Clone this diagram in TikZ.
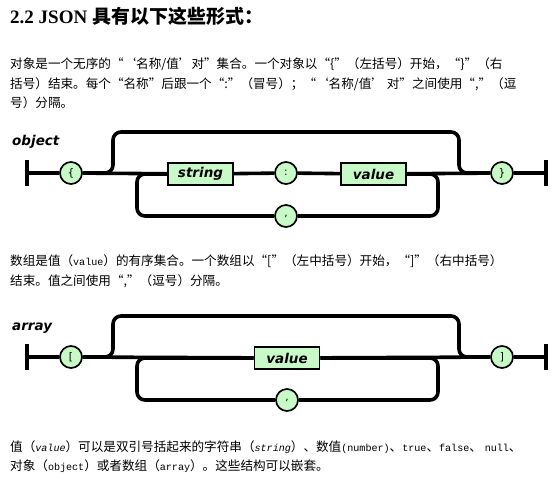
\documentclass[tikz,border=0pt]{standalone}
\usepackage{fontspec}
\setmainfont{Liberation Serif}
\newfontfamily\cjk{Noto Sans CJK SC}
\newfontfamily\railfont{DejaVu Sans}
\newfontfamily\latmono{Liberation Mono}[Scale=0.8]
\definecolor{railgreen}{HTML}{C8FAC8}

\begin{document}
\begin{tikzpicture}[x=1pt,y=-1pt,
    rail/.style={line width=3.6pt,rounded corners=8pt},
    term/.style={circle,draw=black,fill=railgreen,line width=1.7pt,minimum size=22pt,inner sep=0pt,font=\railfont\fontsize{10.5}{10.5}\selectfont},
    nonterm/.style={rectangle,draw=black,fill=railgreen,line width=1.7pt,minimum width=65pt,minimum height=22pt,inner sep=0pt,font=\railfont\bfseries\itshape\fontsize{13.5}{13.5}\selectfont},
    bar/.style={rectangle,fill=black,minimum width=3.6pt,minimum height=26pt,inner sep=0pt},
    diaglabel/.style={anchor=base west,inner sep=0pt,font=\railfont\bfseries\itshape\fontsize{13.5}{13.5}\selectfont},
    para/.style={anchor=base west,align=left,inner sep=0pt,font=\cjk\fontsize{12.6}{19.5}\selectfont}]

    % Page
    \path[fill=white,use as bounding box] (0,0) rectangle (556,491);

    % Title and text (base = last line)
    \node[anchor=base west,inner sep=0pt,font=\fontsize{19}{19}\selectfont\bfseries] (title) at (10,23) {2.2 JSON {\cjk 具有以下这些形式：}};
    \node[para] (p1) at (10,107.5) {对象是一个无序的“‘名称/值’对”集合。一个对象以“\{”（左括号）开始，“\}”（右\\括号）结束。每个“名称”后跟一个“:”（冒号）；“‘名称/值’ 对”之间使用“,”（逗\\号）分隔。};
    \node[para] (p2) at (10,285) {数组是值（{\latmono value}）的有序集合。一个数组以“[”（左中括号）开始，“]”（右中括号）\\结束。值之间使用“,”（逗号）分隔。};
    \node[para] (p3) at (10,470.5) {值（{\latmono\itshape value}）可以是双引号括起来的字符串（{\latmono\itshape string}）、数值{\latmono (number)}、{\latmono true}、{\latmono false}、 {\latmono null}、\\对象（{\latmono object}）或者数组（{\latmono array}）。这些结构可以嵌套。};

    % Object
    \node[diaglabel] (olab) at (12,145) {object};
    \node[bar] (oL) at (27,173) {};
    \node[term] (olb) at (71,173) {\{};
    \node[nonterm] (ostr) at (200.5,174) {string};
    \node[term] (ocol) at (286,173) {:};
    \node[nonterm] (oval) at (373.5,174) {value};
    \node[term] (orb) at (502,173) {\}};
    \node[bar] (oR) at (546,173) {};
    \node[term] (ocom) at (286,216) {,};
    \coordinate (oup1) at (113,132);
    \coordinate (oup2) at (459,132);
    \coordinate (odn1) at (137,216);
    \coordinate (odn2) at (438,216);

    \draw[rail] (oL) -- (olb) -- (ostr) -- (ocol) -- (oval) -- (orb) -- (oR);
    \draw[rail] (olb.east) -| (oup1) -- (oup2) |- (orb.west);
    \draw[rail] (ocom) -- (odn1) |- (ostr.west);
    \draw[rail] (ocom) -- (odn2) |- (oval.east);

    % Array
    \node[diaglabel] (alab) at (12,330) {array};
    \node[bar] (aL) at (27,357) {};
    \node[term] (alb) at (71,357) {[};
    \node[nonterm] (aval) at (287,358) {value};
    \node[term] (arb) at (502,357) {]};
    \node[bar] (aR) at (546,357) {};
    \node[term] (acom) at (287,400) {,};
    \coordinate (aup1) at (113,316);
    \coordinate (aup2) at (459,316);
    \coordinate (adn1) at (137,400);
    \coordinate (adn2) at (438,400);

    \draw[rail] (aL) -- (alb) -- (aval) -- (arb) -- (aR);
    \draw[rail] (alb.east) -| (aup1) -- (aup2) |- (arb.west);
    \draw[rail] (acom) -- (adn1) |- (aval.west);
    \draw[rail] (acom) -- (adn2) |- (aval.east);
\end{tikzpicture}
\end{document}
